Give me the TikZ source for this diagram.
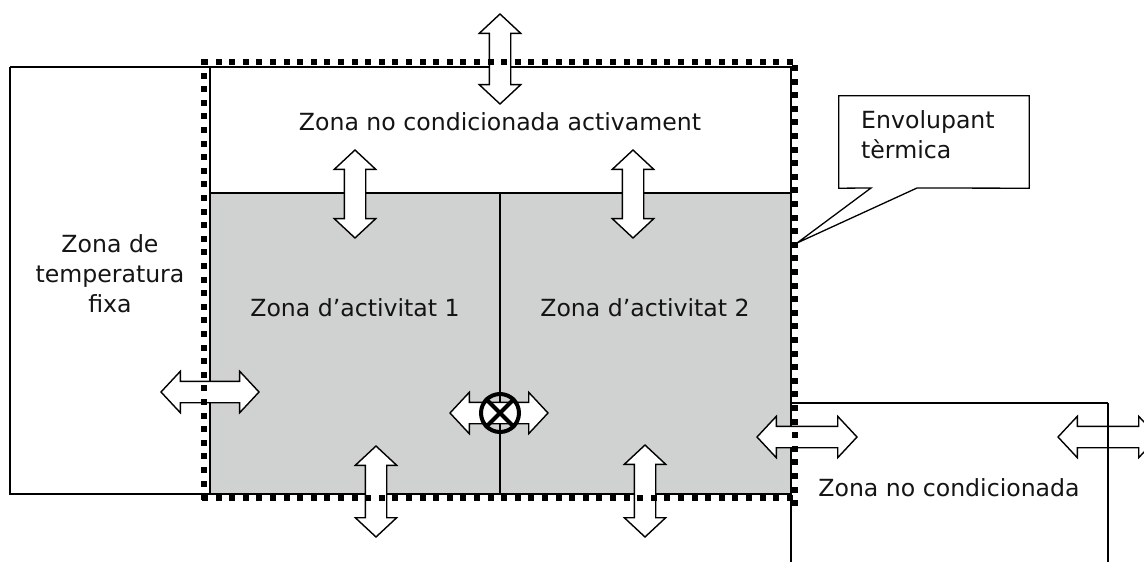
\documentclass[tikz,border=0pt]{standalone}
\usepackage{fontspec}
\setmainfont{DejaVu Sans}
\usetikzlibrary{shapes.arrows}
\definecolor{zonegray}{RGB}{208,209,209}
\definecolor{ink}{RGB}{20,20,20}

\begin{document}
\begin{tikzpicture}[x=1pt,y=-1pt,
  wall/.style={line width=1.5pt},
  envdot/.style={fill=black},
  flow/.style={double arrow, draw, fill=white, line width=1.4pt,
    inner xsep=0pt, inner ysep=10pt, text height=0pt, text depth=0pt,
    double arrow head extend=10pt, double arrow tip angle=94},
  label/.style={font=\fontsize{23.6}{30}\selectfont, text=ink, align=center, inner sep=0pt}]

\useasboundingbox (0,0) rectangle (1144,562);

% conditioned zones (grey) and walls
\fill[zonegray] (210,193) rectangle (791,494);
\draw[wall] (10,67) -- (791,67) -- (791,494);
\draw[wall] (10,67) -- (10,494) -- (210,494);
\draw[wall] (210,67) -- (210,494) -- (791,494);
\draw[wall] (210,193) -- (791,193);
\draw[wall] (500,193) -- (500,494);
\draw[wall] (791,403) -- (791,562);
\draw[wall] (791,403) -- (1108,403);

% heat exchange arrows
\node[flow, minimum height=90, rotate=90] (aTop) at (500,59) {};
\node[flow, minimum height=88, rotate=90] (aUp1) at (355,194) {};
\node[flow, minimum height=88, rotate=90] (aUp2) at (633,194) {};
\node[flow, minimum height=91, rotate=90] (aDn1) at (376,491.5) {};
\node[flow, minimum height=92, rotate=90] (aDn2) at (645,491) {};
\node[flow, minimum height=98] (aLeft) at (210,392) {};
\node[flow, minimum height=98] (aMid) at (499,413) {};
\node[flow, minimum height=100] (aRight) at (807,437) {};
\node[flow, minimum height=100] (aFar) at (1108,437) {};

% wall of the unconditioned zone over its arrow
\draw[wall] (1108,403) -- (1108,562);

% no exchange between activity zones
\node[draw, circle, line width=4pt, minimum size=38pt, inner sep=0pt] (noex) at (500,413) {};
\draw[line width=4pt] (noex.north west) -- (noex.south east)
                      (noex.north east) -- (noex.south west);

% thermal envelope: a line of square dots
\foreach \i in {0,...,43} {
  \fill[envdot] ({205+\i*13.6-3},59) rectangle ++(6,6);
  \fill[envdot] ({205+\i*13.6-3},495) rectangle ++(6,6);
}
\foreach \i in {0,...,32} {
  \fill[envdot] (201,{62+\i*13.6-3}) rectangle ++(6,6);
  \fill[envdot] (791.5,{68+\i*13.6-3}) rectangle ++(6,6);
}

% callout
\node[minimum width=190, minimum height=92, inner sep=0pt] (callout) at (934,142) {};
\coordinate (tip) at (797,243);
\draw[line width=1.3pt, fill=white, line join=miter]
  (callout.north west) -- (callout.north east) -- (callout.south east)
  -- (917,188) -- (tip) -- (871,188) -- (callout.south west) -- cycle;
\node[label, align=left, anchor=north west] (envtext) at (861,110) {Envolupant\\tèrmica};

% zone names
\node[label] (zUpper) at (500,122) {Zona no condicionada activament};
\node[label] (zFixed) at (110,274) {Zona de\\temperatura\\fixa};
\node[label] (zAct1) at (355,308) {Zona d’activitat 1};
\node[label] (zAct2) at (645,308) {Zona d’activitat 2};
\node[label] (zUncond) at (949,488) {Zona no condicionada};
\end{tikzpicture}
\end{document}
